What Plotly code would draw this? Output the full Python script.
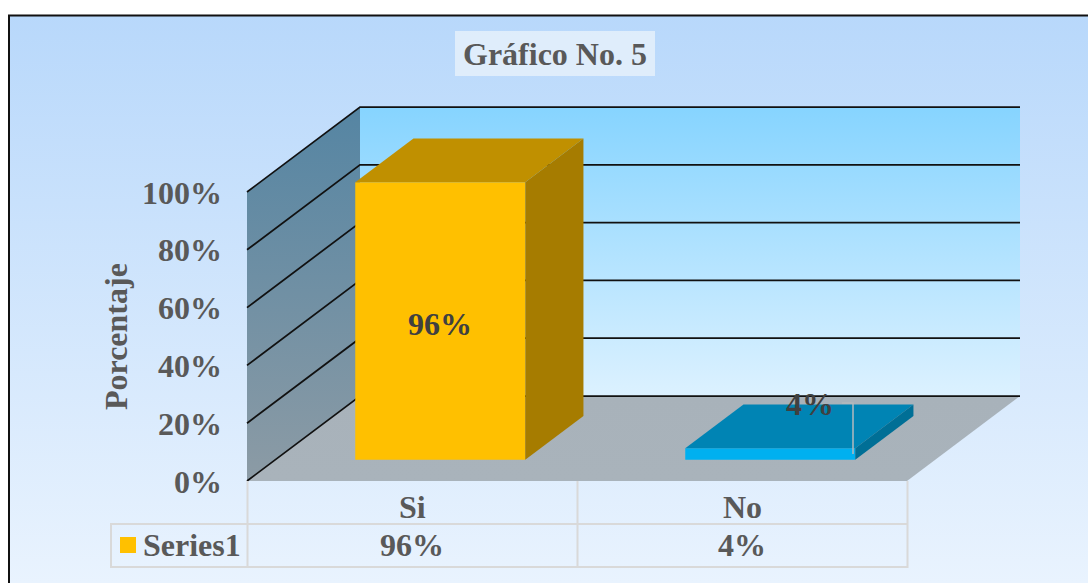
import plotly.graph_objects as go

categories = ["Si", "No"]
values = [0.96, 0.04]
value_labels = ["96%", "4%"]
series_name = "Series1"
y_ticks = [0, 0.2, 0.4, 0.6, 0.8, 1.0]
y_tick_labels = ["0%", "20%", "40%", "60%", "80%", "100%"]
title_text = "Gráfico No. 5"
y_title = "Porcentaje"

FONT = "Liberation Serif"
GREY = "#595959"
DARK = "#404040"
TABLE = "#d9d9d9"

# oblique projection of the 3D box onto the page, in pixels
X0, Y0 = 247, 481
PLOT_W, PLOT_H = 660, 289
DEPTH_X, DEPTH_Y = 113, -85
BAR_START, BAR_W = 80 / 330, 170 / 330
BAR_Z0, BAR_Z1 = 0.25, 0.765


def proj(x, v, z):
    # x: 0..1 across categories, v: 0..1 value, z: 0..1 front to back
    return X0 + x * PLOT_W + z * DEPTH_X, Y0 - v * PLOT_H + z * DEPTH_Y


def poly(fig, pts, color=None, gradient=None):
    xs = [p[0] for p in pts] + [pts[0][0]]
    ys = [p[1] for p in pts] + [pts[0][1]]
    kw = dict(fillgradient=dict(type="vertical", colorscale=gradient)) if gradient else dict(fillcolor=color)
    fig.add_trace(go.Scatter(x=xs, y=ys, mode="lines", fill="toself", line=dict(width=0),
                             hoverinfo="skip", showlegend=False, **kw))


def path(fig, xs, ys, color, width):
    fig.add_trace(go.Scatter(x=xs, y=ys, mode="lines", line=dict(color=color, width=width),
                             hoverinfo="skip", showlegend=False))


def label(text, x, y, size=32, color=GREY, angle=0, **kw):
    return dict(text=f"<b>{text}</b>", x=x, y=y, xref="x", yref="y", showarrow=False, textangle=angle,
                font=dict(family=FONT, size=size, color=color), **kw)


fig = go.Figure()

# chart area + frame
poly(fig, [(8, 15), (1088, 15), (1088, 583), (8, 583)], gradient=[[0, "#e9f3fe"], [1, "#b8d8fb"]])
path(fig, [9, 9, 1088], [583, 15.5, 15.5], "#111111", 2)

# title box
poly(fig, [(455, 31), (655, 31), (655, 76), (455, 76)], "rgba(235,243,251,0.75)")

# walls and floor
poly(fig, [proj(0, 0, 0), proj(1, 0, 0), proj(1, 0, 1), proj(0, 0, 1)], gradient=[[0, "#a9b3bb"], [1, "#a8b2ba"]])
poly(fig, [proj(0, 0, 1), proj(1, 0, 1), proj(1, 1, 1), proj(0, 1, 1)], gradient=[[0, "#dcf1ff"], [1, "#86d4ff"]])
poly(fig, [proj(0, 0, 0), proj(0, 0, 1), proj(0, 1, 1), proj(0, 1, 0)], gradient=[[0, "#8c9ba5"], [1, "#5585a3"]])

for t in y_ticks:
    a, b, c = proj(0, t, 0), proj(0, t, 1), proj(1, t, 1)
    path(fig, [a[0], b[0], c[0]], [a[1], b[1], c[1]], "#111111", 1.75)

# bars
bar_colors = [("#ffc000", "#c09000", "#a67c00"), ("#00b0f0", "#0084b4", "#006f96")]
for i, v in enumerate(values):
    x0 = (i + BAR_START) / len(values)
    x1 = (i + BAR_START + BAR_W) / len(values)
    front, top, side = bar_colors[i]
    poly(fig, [proj(x0, 0, BAR_Z0), proj(x1, 0, BAR_Z0), proj(x1, v, BAR_Z0), proj(x0, v, BAR_Z0)], front)
    poly(fig, [proj(x0, v, BAR_Z0), proj(x1, v, BAR_Z0), proj(x1, v, BAR_Z1), proj(x0, v, BAR_Z1)], top)
    poly(fig, [proj(x1, 0, BAR_Z0), proj(x1, 0, BAR_Z1), proj(x1, v, BAR_Z1), proj(x1, v, BAR_Z0)], side)

# leader line of the small label
path(fig, [842, 853, 853], [403, 403, 454], "#b4b9bd", 1.5)

# data table
table_x = [X0 + PLOT_W * i / len(categories) for i in range(len(categories) + 1)]
for x in table_x:
    path(fig, [x + 0.5, x + 0.5], [Y0, 568], TABLE, 2)
path(fig, [111, 111, 908], [567, 524, 524], TABLE, 2)
path(fig, [110, 908], [567, 567], TABLE, 2)
fig.add_trace(go.Scatter(x=[128], y=[545], mode="markers", hoverinfo="skip", showlegend=False,
                         marker=dict(symbol="square", size=16, color=bar_colors[0][0])))

annotations = [
    label(title_text, 554.5, 53.5),
    label(y_title, 116, 337, angle=-90),
    label(series_name, 191.5, 545),
]
for t, s in zip(y_ticks, y_tick_labels):
    annotations.append(label(s, 224, proj(0, t, 0)[1] + 0.5, xanchor="right"))
for i, c in enumerate(categories):
    xc = (table_x[i] + table_x[i + 1]) / 2
    annotations.append(label(c, xc, 507))
    annotations.append(label(value_labels[i], xc, 545))
annotations.append(label(value_labels[0], 440, 323.5, color=DARK))
annotations.append(label(value_labels[1], 810, 403.5, color=DARK))

fig.update_layout(
    width=1088, height=583,
    margin=dict(l=0, r=0, t=0, b=0),
    paper_bgcolor="white", plot_bgcolor="white",
    xaxis=dict(range=[0, 1088], visible=False, fixedrange=True),
    yaxis=dict(range=[583, 0], visible=False, fixedrange=True),
    annotations=annotations,
)

fig.write_html("out.html", config=dict(displayModeBar=False),
               post_script="document.body.style.margin='0';")
